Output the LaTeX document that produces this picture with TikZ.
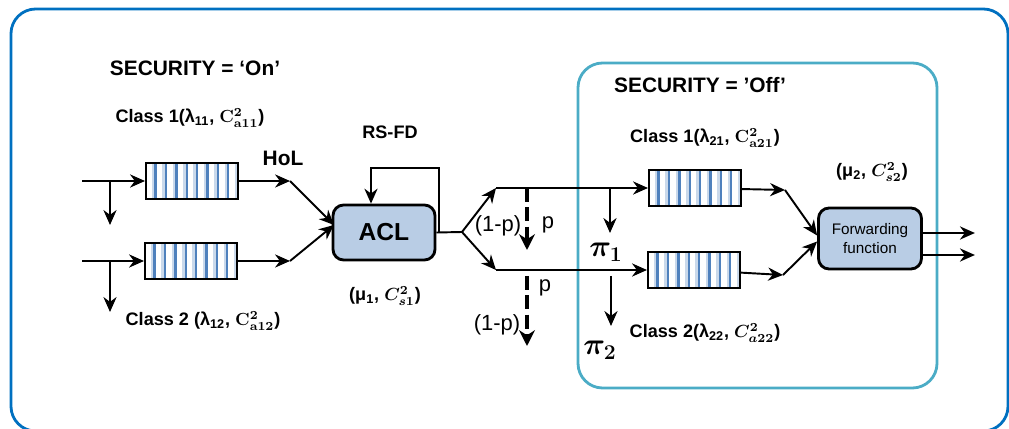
\documentclass[tikz,border=0pt]{standalone}
\usepackage{amsmath}
\usepackage[no-math]{fontspec}
\setmainfont{Liberation Sans}
\usetikzlibrary{arrows.meta,calc,positioning}
\definecolor{frameblue}{RGB}{0,112,192}
\definecolor{offteal}{RGB}{75,172,198}
\definecolor{aclfill}{RGB}{185,205,229}
\definecolor{stripeblue}{RGB}{79,129,189}

\begin{document}
\begin{tikzpicture}[
				x=0.02cm, y=-0.02cm,
				>={Stealth[length=8.5pt,width=7.5pt]},
				line width=1.1pt,
				qbox/.style={rectangle, draw, line width=1.2pt, fill=white, inner sep=0pt,
					minimum width=1.84cm, minimum height=0.72cm,
					path picture={
						\foreach \s in {0,...,8}{
							\fill[stripeblue!30] ([xshift=\s*5.9pt+3.4pt]path picture bounding box.north west)
								rectangle ([xshift=\s*5.9pt+4.8pt]path picture bounding box.south west);
							\fill[stripeblue] ([xshift=\s*5.9pt+4.8pt]path picture bounding box.north west)
								rectangle ([xshift=\s*5.9pt+6.2pt]path picture bounding box.south west);
						}}},
				pbox/.style={rectangle, draw, line width=1.6pt, rounded corners=6pt, fill=aclfill, align=center},
				lbl/.style={font=\bfseries\fontsize{10.3}{12}\selectfont},
				plbl/.style={font=\fontsize{12.5}{14}\selectfont},
				pilbl/.style={font=\fontsize{17}{19}\selectfont},
				dasharr/.style={->, line width=2.2pt, dash pattern=on 8pt off 3pt, >={Stealth[length=9pt,width=9pt]}}
				]
				\useasboundingbox (0,0) rectangle (1009,429);
				\draw[frameblue, line width=1.6pt, rounded corners=14pt] (11,9) rectangle (1008,431);
				\draw[offteal, line width=1.6pt, rounded corners=14pt] (578,63) rectangle (937,388);
				
				% security on
				\node[font=\bfseries\fontsize{11.9}{14}\selectfont] (secon) at (195,68) {SECURITY = ‘On’};
				\node[lbl] (c11) at (190,118) {Class 1(λ\textsubscript{11}, $\mathbf{C}^{\mathbf{2}}_{\mathbf{a11}}$)};
				\node[lbl] (c12) at (203,321) {Class 2 (λ\textsubscript{12}, $\mathbf{C}^{\mathbf{2}}_{\mathbf{a12}}$)};
				\node[qbox] (q1) at (192,181) {};
				\node[qbox] (q2) at (191,261) {};
				\node[font=\bfseries\fontsize{11.9}{14}\selectfont] (hol) at (283,158) {HoL};
				\node[pbox, minimum width=2.04cm, minimum height=1.1cm, font=\bfseries\fontsize{14}{16}\selectfont] (acl) at (384,232.5) {ACL};
				\node[lbl] (rsfd) at (390,132) {RS-FD};
				\node[lbl] (mu1) at (385,296) {(μ\textsubscript{1}, $\boldsymbol{C^2_{s1}}$)};
				
				\coordinate (in1) at (82,181);
				\coordinate (in2) at (82,261);
				\coordinate (br1) at (110,181);
				\coordinate (br2) at (110,261);
				\coordinate (hol1) at (290,181);
				\coordinate (hol2) at (290,261);
				\coordinate (aclin) at (334,225);
				\draw[->] (in1) -- (q1);
				\draw[->] (in2) -- (q2);
				\draw[->] (br1) -- ++(0,44);
				\draw[->] (br2) -- ++(0,51);
				\draw[->] (q1) -- (hol1);
				\draw[->] (q2) -- (hol2);
				\draw[->] (hol1) -- (aclin);
				\draw[->] (hol2) -- (aclin);
				
				% feedback and split
				\coordinate (fb) at (439,232);
				\coordinate (fbtop) at (371,168);
				\coordinate (split) at (462,232);
				\coordinate (up) at (496,188);
				\coordinate (dn) at (496,270);
				\draw[->] (fb) |- (fbtop) -- (fbtop |- acl.north);
				\draw (acl.east) -- (split);
				\draw[->] (split) -- (up);
				\draw[->] (split) -- (dn);
				
				% security off
				\node[font=\bfseries\fontsize{11.9}{14}\selectfont] (secoff) at (700,85) {SECURITY = ’Off’};
				\node[lbl] (c21) at (705,138) {Class 1(λ\textsubscript{21}, $\mathbf{C}^{\mathbf{2}}_{\mathbf{a21}}$)};
				\node[lbl] (c22) at (705,333) {Class 2(λ\textsubscript{22}, $\boldsymbol{C^2_{a22}}$)};
				\node[qbox] (q3) at (695,188) {};
				\node[qbox] (q4) at (694,270) {};
				\node[pbox, minimum width=2.06cm, minimum height=1.22cm, font=\fontsize{8.7}{11}\selectfont] (ff) at (870,238.5) {Forwarding\\function};
				\node[lbl] (mu2) at (872,172) {(μ\textsubscript{2}, $\boldsymbol{C^2_{s2}}$)};
				
				\draw[->] (up) -- (q3);
				\draw[->] (dn) -- (q4);
				
				% probabilities
				\coordinate (pa) at (527,188);
				\coordinate (pb) at (527,276);
				\draw[dasharr] (pa) -- ++(0,62);
				\draw[dasharr] (pb) -- ++(0,70);
				\node[plbl] (p1l) at (498,226) {(1-p)};
				\node[plbl] (p1r) at (548,225) {p};
				\node[plbl] (p2r) at (545,288) {p};
				\node[plbl] (p2l) at (497,325) {(1-p)};
				
				\coordinate (dropA) at (610,188);
				\coordinate (dropB) at (611,276);
				\draw[->] (dropA) -- ++(0,45);
				\draw[->] (dropB) -- ++(0,50);
				\node[pilbl] (piA) at (606,252) {$\boldsymbol{\pi_1}$};
				\node[pilbl] (piB) at (600,350) {$\boldsymbol{\pi_2}$};
				
				\coordinate (o3) at (785,190);
				\coordinate (o4) at (783,275);
				\draw[->] (q3) -- (o3);
				\draw[->] (q4) -- (o4);
				\draw[->] (o3) -- ($(ff.west)+(0,-3)$);
				\draw[->] (o4) -- ($(ff.west)+(0,3)$);
				\draw[->] ($(ff.east)+(0,-5.5)$) -- ++(52,0);
				\draw[->] ($(ff.east)+(0,16.5)$) -- ++(52,0);
			\end{tikzpicture}
\end{document}
